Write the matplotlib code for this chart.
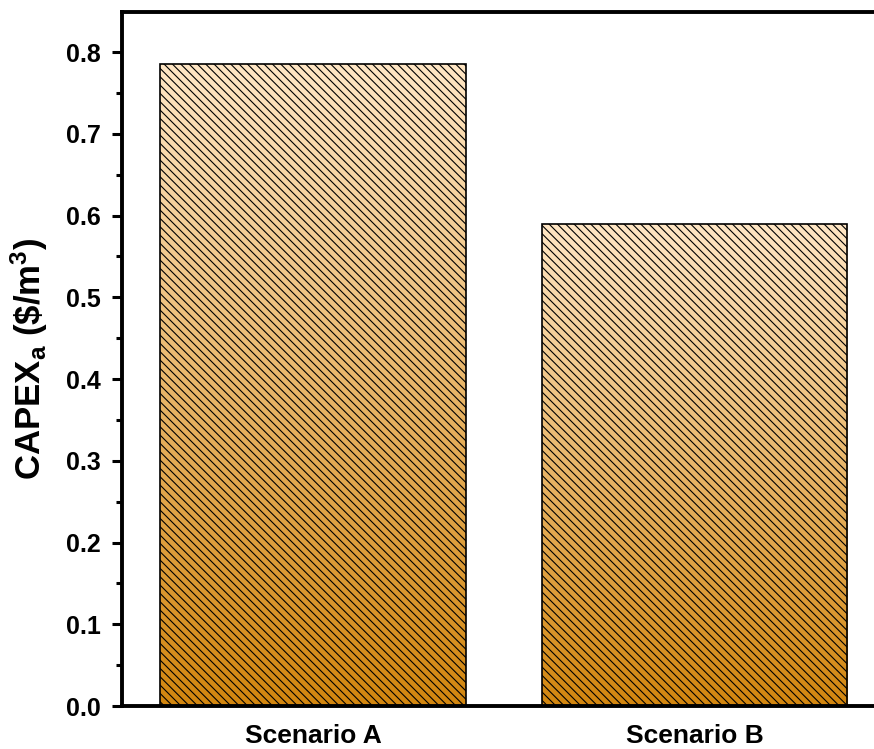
import numpy as np
import matplotlib
matplotlib.use('Agg')
import matplotlib.pyplot as plt
from matplotlib.colors import LinearSegmentedColormap

scenarios = ['Scenario A', 'Scenario B']
capex = [0.785, 0.590]
y_ticks = [0.0, 0.1, 0.2, 0.3, 0.4, 0.5, 0.6, 0.7, 0.8]

plt.rcParams['font.family'] = 'Liberation Sans'
plt.rcParams['font.weight'] = 'bold'
plt.rcParams['mathtext.fontset'] = 'custom'
plt.rcParams['mathtext.rm'] = 'Liberation Sans:bold'
plt.rcParams['mathtext.it'] = 'Liberation Sans:bold'
plt.rcParams['mathtext.bf'] = 'Liberation Sans:bold'
plt.rcParams['hatch.linewidth'] = 0.8

fig = plt.figure(figsize=(8.74, 7.49), dpi=100)
ax = fig.add_axes([0.1396, 0.0574, 0.8736, 0.9266])

# orange gradient, light at top of each bar, darker at the base
cmap = LinearSegmentedColormap.from_list('bar', ['#D2860F', '#FFE6C4'])
grad = np.linspace(0, 1, 256).reshape(-1, 1)

x = np.arange(len(scenarios))
bars = ax.bar(x, capex, width=0.8, facecolor='none', edgecolor='black',
              linewidth=1.2, hatch='\\\\\\\\', zorder=3)
for b in bars:
    x0, y0 = b.get_x(), b.get_y()
    im = ax.imshow(grad, extent=[x0, x0 + b.get_width(), y0, y0 + b.get_height()],
                   origin='lower', aspect='auto', cmap=cmap, zorder=2)
    im.set_clip_path(b)

ax.set_xlim(-0.5, 1.5)
ax.set_ylim(0, 0.849)
ax.set_xticks(x)
ax.set_xticklabels(scenarios, fontsize=19, fontweight='bold')
ax.set_yticks(y_ticks)
ax.set_yticklabels(['%.1f' % v for v in y_ticks], fontsize=18, fontweight='bold')
ax.set_yticks(np.arange(0.05, 0.85, 0.1), minor=True)

ax.tick_params(axis='x', length=0, pad=13)
ax.tick_params(axis='y', which='major', direction='out', length=7, width=2.2, pad=8)
ax.tick_params(axis='y', which='minor', direction='out', length=4, width=2.2)

ax.set_ylabel('CAPEX$_{a}$ (\\$/m$^{3}$)', fontsize=25, fontweight='bold', labelpad=12)

for s in ['left', 'top', 'bottom']:
    ax.spines[s].set_linewidth(2.8)
ax.spines['right'].set_visible(False)

fig.savefig('out.png', dpi=100)
